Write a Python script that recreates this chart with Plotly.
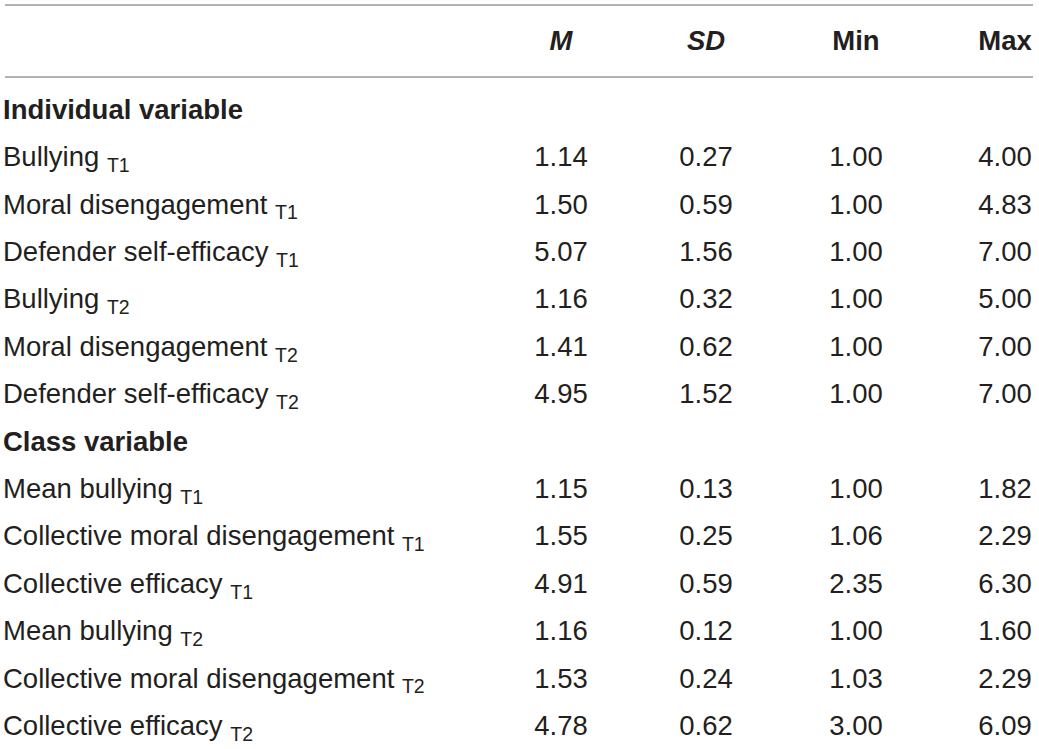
import plotly.graph_objects as go

# table content
col_headers = ["<b><i>M</i></b>", "<b><i>SD</i></b>", "<b>Min</b>", "<b>Max</b>"]
section_1 = "Individual variable"
section_2 = "Class variable"
var_names = [
    "Bullying", "Moral disengagement", "Defender self-efficacy",
    "Bullying", "Moral disengagement", "Defender self-efficacy",
    "Mean bullying", "Collective moral disengagement", "Collective efficacy",
    "Mean bullying", "Collective moral disengagement", "Collective efficacy",
]
var_time = ["T1", "T1", "T1", "T2", "T2", "T2", "T1", "T1", "T1", "T2", "T2", "T2"]
mean_vals = [1.14, 1.50, 5.07, 1.16, 1.41, 4.95, 1.15, 1.55, 4.91, 1.16, 1.53, 4.78]
sd_vals = [0.27, 0.59, 1.56, 0.32, 0.62, 1.52, 0.13, 0.25, 0.59, 0.12, 0.24, 0.62]
min_vals = [1.00, 1.00, 1.00, 1.00, 1.00, 1.00, 1.00, 1.06, 2.35, 1.00, 1.03, 3.00]
max_vals = [4.00, 4.83, 7.00, 5.00, 7.00, 7.00, 1.82, 2.29, 6.30, 1.60, 2.29, 6.09]

TXT = "#231f20"
FONT = "Liberation Sans, Arial, Helvetica, sans-serif"
FS = 27.5
col_x = [561, 706, 856, 1005]
label_x = 3
ROW_H = 47.4
TOP_PX = 112  # pixel of first section row

# row indices: section rows at 0 and 7, variables fill the rest
var_rows = [1, 2, 3, 4, 5, 6, 8, 9, 10, 11, 12, 13]
header_row = (43 - TOP_PX) / ROW_H

fig = go.Figure()

# variable labels with subscripts
fig.add_trace(go.Scatter(
    x=[label_x] * len(var_names), y=var_rows, mode="text",
    text=[f"{n} <sub><span style='font-size:19.5px'>{t}</span></sub>"
          for n, t in zip(var_names, var_time)],
    textposition="middle right", cliponaxis=False,
    textfont=dict(family=FONT, size=FS, color=TXT),
    hoverinfo="skip",
))

# section headings
fig.add_trace(go.Scatter(
    x=[label_x, label_x], y=[0, 7], mode="text",
    text=[f"<b>{section_1}</b>", f"<b>{section_2}</b>"],
    textposition="middle right", cliponaxis=False,
    textfont=dict(family=FONT, size=FS, color=TXT),
    hoverinfo="skip",
))

# column headers
fig.add_trace(go.Scatter(
    x=col_x, y=[header_row] * 4, mode="text", text=col_headers,
    textposition="middle center", cliponaxis=False,
    textfont=dict(family=FONT, size=FS, color=TXT),
    hoverinfo="skip",
))

# numeric columns
for cx, vals in zip(col_x, [mean_vals, sd_vals, min_vals, max_vals]):
    fig.add_trace(go.Scatter(
        x=[cx] * len(vals), y=var_rows, mode="text",
        text=[f"{v:.2f}" for v in vals],
        textposition="middle center", cliponaxis=False,
        textfont=dict(family=FONT, size=FS, color=TXT),
        hoverinfo="skip",
    ))

# horizontal rules
for py in [5, 77]:
    yv = (py - TOP_PX) / ROW_H
    fig.add_shape(type="line", x0=5, x1=1033, y0=yv, y1=yv,
                  line=dict(color="#9a9a9a", width=1.5))

y_top = -TOP_PX / ROW_H
y_bot = (749 - TOP_PX) / ROW_H
fig.update_layout(
    width=1039, height=749,
    margin=dict(l=0, r=0, t=0, b=0),
    paper_bgcolor="white", plot_bgcolor="white",
    showlegend=False,
    xaxis=dict(range=[0, 1039], visible=False, fixedrange=True),
    yaxis=dict(range=[y_bot, y_top], visible=False, fixedrange=True),
    hovermode=False,
)

fig.write_html("out.html", config={"displayModeBar": False},
               post_script="document.body.style.margin='0';")
